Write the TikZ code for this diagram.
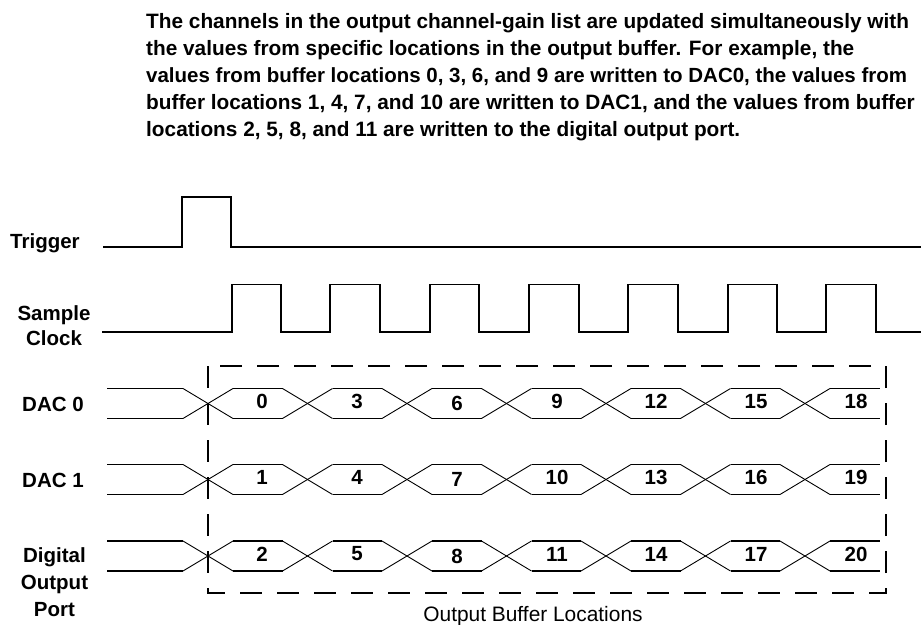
\documentclass[tikz,border=0pt]{standalone}
\usepackage{fontspec}
\setmainfont{Liberation Sans}
\begin{document}
\begin{tikzpicture}[x=1pt,y=-1pt,
  sig/.style={line width=1.9pt, line join=miter},
  bus/.style={line width=1.7pt},
  cross/.style={line width=0.9pt},
  lab/.style={font=\fontsize{20.5}{26}\selectfont\bfseries, inner sep=0},
  num/.style={font=\fontsize{20.5}{24}\selectfont\bfseries, inner sep=0},
  para/.style={font=\fontsize{20.8}{26.7}\selectfont\bfseries, inner sep=0, anchor=base west},
  buf/.style={line width=1.9pt, dash pattern=on 22pt off 15pt}]
\useasboundingbox (0,0) rectangle (921,624);

% paragraph
\node[para] (p1) at (146,28) {The channels in the output channel-gain list are updated simultaneously with};
\node[para] (p2) at (146,55) {the values from specific locations in the output buffer. For example, the};
\node[para, font=\fontsize{20.5}{26.7}\selectfont\bfseries] (p3) at (146,82) {values from buffer locations 0, 3, 6, and 9 are written to DAC0, the values from};
\node[para] (p4) at (146,109) {buffer locations 1, 4, 7, and 10 are written to DAC1, and the values from buffer};
\node[para] (p5) at (146,136) {locations 2, 5, 8, and 11 are written to the digital output port.};

% left labels
\node[lab, anchor=base west] (trig) at (10,248) {Trigger};
\node[lab, anchor=base] (samp) at (54,320) {Sample};
\node[lab, anchor=base] (clk) at (54,345) {Clock};
\node[lab, anchor=base west] (dac0) at (22,411) {DAC 0};
\node[lab, anchor=base west] (dac1) at (22,487) {DAC 1};
\node[lab, anchor=base] (dig) at (54.5,562) {Digital};
\node[lab, anchor=base] (out) at (54.5,589) {Output};
\node[lab, anchor=base] (port) at (54.5,616) {Port};

% trigger
\draw[sig] (103,246.7) -| (182,196.7) -| (231,246.7) -- (921,246.7);

% sample clock
\draw[sig] (102,332) -| (232,284.5) -| (281,332) -| (330,284.5) -| (380,332)
  -| (430,284.5) -| (479,332) -| (529,284.5) -| (579,332) -| (628,284.5) -| (678,332)
  -| (728,284.5) -| (777,332) -| (826,284.5) -| (876,332) -- (921,332);

% dashed buffer box
\draw[buf] (208,366) rectangle (886,593);

% data rows
\foreach \yc/\r in {403.5/0, 479.5/1, 556/2} {
  \draw[bus] (107,{\yc-15}) -- (183,{\yc-15});
  \draw[bus] (107,{\yc+15}) -- (183,{\yc+15});
  \foreach \k in {0,...,6} {
    \pgfmathsetmacro\c{208+99.5*\k}
    \draw[cross] ({\c-25},{\yc-15}) -- ({\c+25},{\yc+15});
    \draw[cross] ({\c-25},{\yc+15}) -- ({\c+25},{\yc-15});
  }
  \foreach \k in {0,...,5} {
    \pgfmathsetmacro\a{233+99.5*\k}
    \pgfmathsetmacro\b{282.5+99.5*\k}
    \draw[bus] (\a,{\yc-15}) -- (\b,{\yc-15});
    \draw[bus] (\a,{\yc+15}) -- (\b,{\yc+15});
  }
  \draw[bus] (830,{\yc-15}) -- (880,{\yc-15});
  \draw[bus] (830,{\yc+15}) -- (880,{\yc+15});
  \foreach \x/\dy/\i in {262/0/0, 357/0/1, 457/2/2, 557/0/3, 656/0/4, 756/0/5, 856/0/6} {
    \pgfmathtruncatemacro\n{3*\i+\r}
    \node[num] (n\r-\i) at (\x,{\yc-2+\dy}) {\n};
  }
}

% bottom label
\node[font=\fontsize{20.9}{25}\selectfont, inner sep=0, anchor=base] (obl) at (533,621) {Output Buffer Locations};
\end{tikzpicture}
\end{document}
